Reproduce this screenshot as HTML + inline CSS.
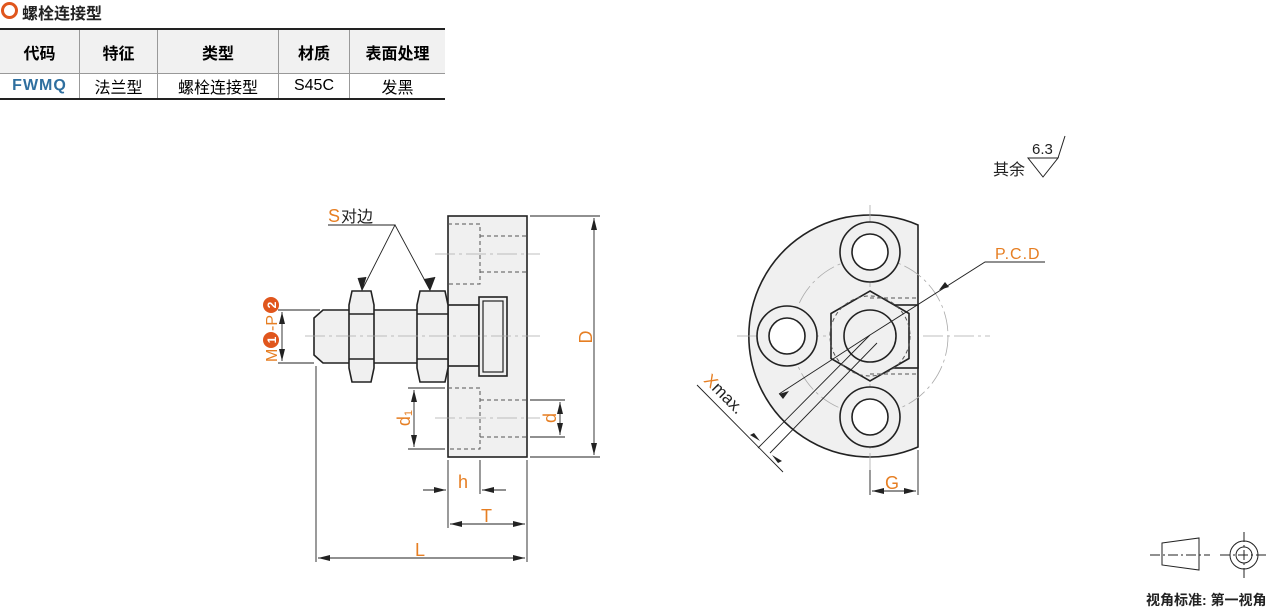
<!DOCTYPE html>
<html><head><meta charset="utf-8"><style>
body{margin:0;width:1279px;height:610px;background:#fff;overflow:hidden;font-family:"Liberation Sans","Noto Sans CJK SC",sans-serif;}
.t{position:absolute;left:0;top:28px;border-collapse:collapse;font-size:16px;}
.t td{border-left:1px solid #999;border-right:1px solid #999;text-align:center;padding:0;}
.t tr:first-child td{background:#f1f1f1;font-weight:bold;height:43px;border-top:2px solid #222;border-bottom:1px solid #999;}
.t tr:last-child td{height:24px;border-bottom:2px solid #222;}
</style></head><body>
<div style="position:absolute;left:1px;top:2px;width:11px;height:11px;border:3px solid #e0561d;border-radius:50%"></div>
<div style="position:absolute;left:22px;top:0px;font-size:16px;font-weight:bold;color:#222">螺栓连接型</div>
<table class="t"><tr><td style="width:79px;border-left:none">代码</td><td style="width:77px">特征</td><td style="width:120px">类型</td><td style="width:70px">材质</td><td style="width:95px;border-right:none">表面处理</td></tr>
<tr><td style="border-left:none;color:#2f6f9f;font-weight:bold;letter-spacing:1px">FWMQ</td><td>法兰型</td><td>螺栓连接型</td><td>S45C</td><td style="border-right:none">发黑</td></tr></table>
<svg width="1279" height="610" style="position:absolute;left:0;top:0" font-family="Liberation Sans, Noto Sans CJK SC, sans-serif">
<defs><marker id="a" viewBox="0 0 12 8" refX="12" refY="4" markerWidth="12" markerHeight="8" orient="auto-start-reverse" markerUnits="userSpaceOnUse"><path d="M0,1L12,4L0,7z" fill="#222"/></marker></defs>
<g stroke="#222" fill="none" stroke-width="1.6">
<rect x="448" y="216" width="79" height="241" fill="#f0f0f0"/>
<path d="M323,310H466V363H323L314,355V318Z" fill="#f0f0f0"/>
<rect x="448" y="305" width="31" height="61" fill="#f0f0f0"/>
<rect x="479" y="297" width="28" height="79" fill="#f0f0f0"/>
<rect x="483" y="301" width="20" height="71" stroke-width="1.2"/>
<path d="M352,291H371L374,305V368L371,382H352L349,368V305Z" fill="#f0f0f0"/>
<path d="M349,314H374M349,359H374"/>
<path d="M420,291H445L448,305V368L445,382H420L417,368V305Z" fill="#f0f0f0"/>
<path d="M417,314H448M417,359H448"/>
</g>
<g stroke="#555" fill="none" stroke-width="1" stroke-dasharray="4,3">
<path d="M448,224H480V284H448M480,236H527M480,272H527"/>
<path d="M448,388H480V449H448M480,400H527M480,437H527"/>
</g>
<g stroke="#aaa" stroke-width="0.8" fill="none" stroke-dasharray="20,4,3,4">
<path d="M305,336H540M435,254H540M435,418H540"/>
</g>
<g stroke="#222" stroke-width="0.9" fill="none">
<path d="M530,216H600M530,457H600M278,310H320M278,363H314M408,388H445M408,449H445M530,400H565M530,437H565M448,460V528M480,460V494M527,460V562M316,366V562"/>
<path d="M594,218V455" marker-start="url(#a)" marker-end="url(#a)"/>
<path d="M282,312V361" marker-start="url(#a)" marker-end="url(#a)"/>
<path d="M414,390V447" marker-start="url(#a)" marker-end="url(#a)"/>
<path d="M560,402V435" marker-start="url(#a)" marker-end="url(#a)"/>
<path d="M450,524H525" marker-start="url(#a)" marker-end="url(#a)"/>
<path d="M318,558H525" marker-start="url(#a)" marker-end="url(#a)"/>
<path d="M423,490H446" marker-end="url(#a)"/><path d="M506,490H482" marker-end="url(#a)"/>
<path d="M328,225H395L362,290M395,225L430,290"/>
<path d="M366,277L362,290L358,278M435,277L430,290L424,279" fill="#222"/>
</g>
<g fill="#e67e22" font-size="18">
<text x="328" y="222">S</text><text x="341" y="222" fill="#222" font-size="16">对边</text>
<text transform="translate(592,337) rotate(-90)" text-anchor="middle">D</text>
<text transform="translate(556,418) rotate(-90)" text-anchor="middle">d</text>
<text transform="translate(410,418) rotate(-90)" text-anchor="middle">d<tspan font-size="11" dy="2">1</tspan></text>
<text x="458" y="488">h</text><text x="481" y="522">T</text><text x="415" y="556">L</text>
<text x="885" y="489">G</text><text x="995" y="259" letter-spacing="1" font-size="16">P.C.D</text>
</g>
<g transform="translate(277,362) rotate(-90)" font-size="16">
<text x="0" y="0" fill="#e67e22">M</text>
<circle cx="22" cy="-6" r="8" fill="#e0561d"/><text x="22" y="-1" fill="#fff" font-size="12" text-anchor="middle" font-weight="bold">1</text>
<text x="31" y="0" fill="#e67e22">-P</text>
<circle cx="57" cy="-6" r="8" fill="#e0561d"/><text x="57" y="-1" fill="#fff" font-size="12" text-anchor="middle" font-weight="bold">2</text>
</g>
<!-- right view -->
<path d="M918,225A121,121 0 1 0 918,447Z" fill="#f0f0f0" stroke="#222" stroke-width="1.6"/>
<g stroke="#aaa" stroke-width="0.8" fill="none" stroke-dasharray="20,4,3,4">
<circle cx="870" cy="336" r="78"/>
<path d="M737,336H990M870,205V470"/>
</g>
<g stroke="#222" stroke-width="1.6" fill="#fff">
<circle cx="870" cy="252" r="30" fill="#f0f0f0"/><circle cx="870" cy="252" r="18"/>
<circle cx="787" cy="336" r="30" fill="#f0f0f0"/><circle cx="787" cy="336" r="18"/>
<circle cx="870" cy="417" r="30" fill="#f0f0f0"/><circle cx="870" cy="417" r="18"/>
<rect x="893" y="305" width="25" height="63" fill="#f0f0f0"/>
<path d="M870,291L909,313.5V358.5L870,381L831,358.5V313.5Z" fill="#f0f0f0"/>
<circle cx="870" cy="336" r="26" fill="#f0f0f0"/>
</g>
<g stroke="#555" stroke-width="1" fill="none" stroke-dasharray="4,3">
<circle cx="870" cy="336" r="40"/><path d="M870,298H918M870,374H918"/>
</g>
<g stroke="#222" stroke-width="0.9" fill="none">
<path d="M870,335L985,262H1045"/>
<path d="M870,335L779,394" />
<path d="M870,335L758,448M877,343L770,453M697,385L783,472"/>
<path d="M870,470V495M918,450V495"/>
<path d="M872,491H916" marker-start="url(#a)" marker-end="url(#a)"/>
</g>
<path d="M949,287l-10,3l6,-8z M779,394l10,-3l-6,8z M760,441l-10,-6l4,-2z M772,455l10,6l-4,2z" fill="#222"/>
<text transform="translate(703,381) rotate(45)" font-size="17"><tspan fill="#e67e22">X</tspan><tspan fill="#222">max.</tspan></text>
<!-- roughness -->
<text x="993" y="175" font-size="16" fill="#222">其余</text>
<text x="1032" y="154" font-size="15" fill="#222">6.3</text>
<path d="M1028,158H1058L1043,177ZM1058,158L1065,136" stroke="#222" fill="none" stroke-width="1"/>
<!-- projection symbol -->
<g stroke="#222" stroke-width="1" fill="none">
<path d="M1162,543L1199,538V570L1162,565Z"/>
<path d="M1150,555H1210M1220,555H1268M1244,532V578" stroke-dasharray="10,3,2,3"/>
<circle cx="1244" cy="555" r="14"/><circle cx="1244" cy="555" r="8"/>
</g>
<text x="1146" y="605" font-size="14" fill="#222" font-weight="bold">视角标准: 第一视角</text>
</svg>
</body></html>
